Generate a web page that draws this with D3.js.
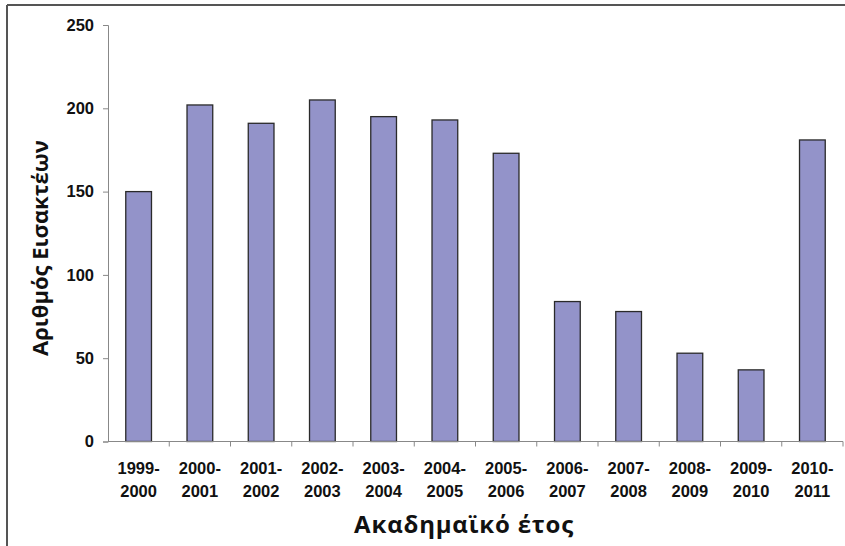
<!DOCTYPE html>
<html>
<head>
<meta charset="utf-8">
<script src="https://cdn.jsdelivr.net/npm/d3@7"></script>
<style>
  body { margin: 0; background: #fff; }
</style>
</head>
<body>
<div id="chart"></div>
<script>
const years = ['1999-2000', '2000-2001', '2001-2002', '2002-2003', '2003-2004', '2004-2005',
    '2005-2006', '2006-2007', '2007-2008', '2008-2009', '2009-2010', '2010-2011']
const students = [150, 202, 191, 205, 195, 193, 173, 84, 78, 53, 43, 181]
const yTicks = [0, 50, 100, 150, 200, 250]
const xTitle = 'Ακαδημαϊκό έτος'
const yTitle = 'Αριθμός Εισακτέων'

const width = 845
const height = 546
const margin = { top: 25, right: 2, bottom: 105, left: 108 }

const svg = d3.select('#chart').append('svg')
    .attr('width', width)
    .attr('height', height)

// frame round the picture (top and left edges only visible)
svg.append('line')
    .attr('x1', 7).attr('x2', width).attr('y1', 5).attr('y2', 5)
    .attr('stroke', '#555').attr('stroke-width', 2)
svg.append('line')
    .attr('x1', 7).attr('x2', 7).attr('y1', 5).attr('y2', height)
    .attr('stroke', '#555').attr('stroke-width', 2)

const x = d3.scaleBand()
    .domain(years)
    .range([margin.left, width - margin.right])
    .paddingInner(0)
    .paddingOuter(0)

const y = d3.scaleLinear()
    .domain([0, 250])
    .range([height - margin.bottom + 0.5, margin.top])

const barW = x.bandwidth() * 0.42

svg.append('g')
    .selectAll('rect')
    .data(students)
    .join('rect')
    .attr('x', (d, i) => x(years[i]) + (x.bandwidth() - barW) / 2)
    .attr('y', d => y(d))
    .attr('width', barW)
    .attr('height', d => y(0) - y(d))
    .attr('fill', '#9393c9')
    .attr('stroke', '#2a2a2a')
    .attr('stroke-width', 1.3)

// y axis
const yAxis = svg.append('g')
    .attr('transform', `translate(${margin.left},0)`)
    .call(d3.axisLeft(y).tickValues(yTicks).tickSize(5).tickPadding(9))
yAxis.select('.domain').attr('stroke', '#888')
yAxis.selectAll('.tick line').attr('stroke', '#888')
yAxis.selectAll('.tick text')
    .attr('font-family', 'Liberation Sans, Arial, sans-serif')
    .attr('font-size', 16.5)
    .attr('font-weight', 'bold')
    .attr('fill', '#111')

// x axis: ticks on band edges
const xAxis = svg.append('g')
    .attr('transform', `translate(0,${y(0)})`)
xAxis.append('line')
    .attr('x1', margin.left).attr('x2', width - margin.right)
    .attr('stroke', '#888')
xAxis.selectAll('.edge')
    .data(years)
    .join('line')
    .attr('class', 'edge')
    .attr('x1', d => x(d) + x.bandwidth())
    .attr('x2', d => x(d) + x.bandwidth())
    .attr('y1', 0).attr('y2', 5)
    .attr('stroke', '#888')

const labels = xAxis.selectAll('.lbl')
    .data(years)
    .join('text')
    .attr('class', 'lbl')
    .attr('text-anchor', 'middle')
    .attr('font-family', 'Liberation Sans, Arial, sans-serif')
    .attr('font-size', 16.5)
    .attr('font-weight', 'bold')
    .attr('fill', '#111')
labels.append('tspan')
    .attr('x', d => x(d) + x.bandwidth() / 2)
    .attr('y', 32)
    .text(d => d.split('-')[0] + '-')
labels.append('tspan')
    .attr('x', d => x(d) + x.bandwidth() / 2)
    .attr('y', 55)
    .text(d => d.split('-')[1])

// titles
svg.append('text')
    .attr('x', 464)
    .attr('y', 533)
    .attr('text-anchor', 'middle')
    .attr('font-family', 'Open Sans, Noto Sans, sans-serif')
    .attr('font-size', 24)
    .attr('font-weight', 'bold')
    .attr('letter-spacing', 0.8)
    .attr('fill', '#111')
    .text(xTitle)

svg.append('text')
    .attr('transform', 'translate(48,248) rotate(-90)')
    .attr('text-anchor', 'middle')
    .attr('font-family', 'Open Sans, Noto Sans, sans-serif')
    .attr('font-size', 22)
    .attr('font-weight', 'bold')
    .attr('fill', '#111')
    .text(yTitle)
</script>
</body>
</html>
